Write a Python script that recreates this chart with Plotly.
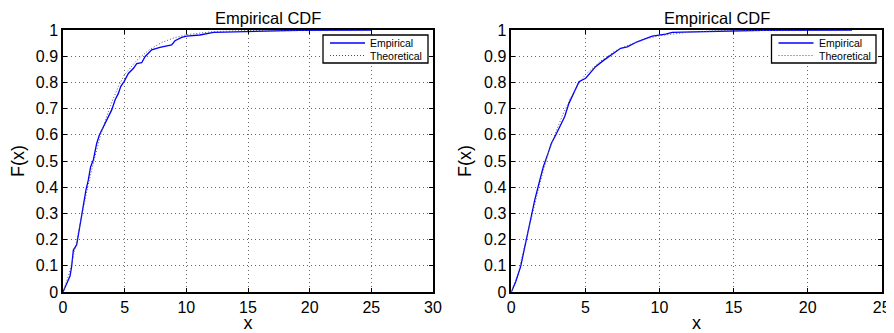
import plotly.graph_objects as go

# ---------------- data ----------------
left_emp_x = [0, 0.30, 0.57, 0.70, 0.84, 1.11, 1.32, 1.51, 1.70, 1.86, 2.05, 2.24, 2.46, 2.59,
              2.73, 2.95, 3.27, 3.54, 3.95, 4.22, 4.49, 4.68, 4.95, 5.30, 5.70, 5.98, 6.38,
              6.65, 7.19, 7.86, 8.81, 9.08, 9.62, 10.03, 11.1, 12.2, 13.8, 15.2, 19.2, 25.05]
left_emp_f = [0, 0.033, 0.061, 0.097, 0.16, 0.18, 0.237, 0.30, 0.351, 0.389, 0.427, 0.478, 0.504,
              0.542, 0.567, 0.599, 0.631, 0.656, 0.695, 0.733, 0.758, 0.784, 0.803, 0.834, 0.853,
              0.872, 0.875, 0.898, 0.924, 0.934, 0.943, 0.959, 0.972, 0.977, 0.981, 0.991, 0.993,
              0.996, 0.999, 1.0]
left_theo_x = [0, 0.5, 1, 1.5, 2, 2.5, 3, 3.5, 4, 4.5, 5, 6, 7, 8, 9, 10, 12, 14, 17, 20, 25.05]
left_theo_f = [0, 0.07, 0.17, 0.29, 0.40, 0.50, 0.59, 0.665, 0.73, 0.785, 0.83, 0.885, 0.925,
               0.952, 0.97, 0.982, 0.993, 0.997, 0.999, 1.0, 1.0]

right_emp_x = [0, 0.30, 0.63, 0.86, 1.08, 1.35, 1.58, 1.87, 2.16, 2.48, 2.70, 3.0, 3.33, 3.60,
               3.89, 4.23, 4.57, 5.02, 5.69, 6.25, 6.93, 7.38, 7.83, 8.50, 9.51, 10.42, 10.86,
               12.3, 13.9, 17.05, 23.0]
right_emp_f = [0, 0.039, 0.097, 0.16, 0.224, 0.288, 0.351, 0.415, 0.478, 0.529, 0.567, 0.599,
               0.637, 0.669, 0.720, 0.765, 0.803, 0.816, 0.860, 0.885, 0.911, 0.930, 0.936,
               0.955, 0.977, 0.984, 0.991, 0.993, 0.996, 0.999, 1.0]
right_theo_x = [0, 0.5, 1, 1.5, 2, 2.5, 3, 3.5, 4, 4.5, 5, 6, 7, 8, 9, 10, 12, 14, 17, 20, 23.0]
right_theo_f = [0, 0.08, 0.20, 0.32, 0.43, 0.53, 0.61, 0.68, 0.74, 0.79, 0.83, 0.88, 0.92, 0.945,
                0.965, 0.978, 0.992, 0.997, 0.9995, 1.0, 1.0]

title_text = "Empirical CDF"
x_label = "x"
y_label = "F(x)"
legend_names = ["Empirical", "Theoretical"]
y_ticks = [0, 0.1, 0.2, 0.3, 0.4, 0.5, 0.6, 0.7, 0.8, 0.9, 1]
y_tick_text = ["0", "0.1", "0.2", "0.3", "0.4", "0.5", "0.6", "0.7", "0.8", "0.9", "1"]
left_x_ticks = [0, 5, 10, 15, 20, 25, 30]
right_x_ticks = [0, 5, 10, 15, 20, 25]

# ---------------- figure ----------------
PAGE_W, PAGE_H = 894, 333
OFF = 8  # default body margin of the written page
W, H = PAGE_W - OFF, PAGE_H - OFF
FONT = "Liberation Sans, Arial, sans-serif"
BLUE = "#0000ff"
THEO = "#555555"
THEO_DASH = "1px,2px"


def px_x(p):
    """page pixel (x) -> paper coordinate"""
    return (p - OFF) / W


def px_y(p):
    """page pixel (y, from top) -> paper coordinate"""
    return (H - (p - OFF)) / H


fig = go.Figure()

fig.add_trace(go.Scatter(x=left_emp_x, y=left_emp_f, mode="lines", name=legend_names[0],
                         line=dict(color=BLUE, width=1.3), xaxis="x", yaxis="y"))
fig.add_trace(go.Scatter(x=left_theo_x, y=left_theo_f, mode="lines", name=legend_names[1],
                         line=dict(color=THEO, width=1, dash=THEO_DASH), xaxis="x", yaxis="y"))
fig.add_trace(go.Scatter(x=right_emp_x, y=right_emp_f, mode="lines", name=legend_names[0],
                         line=dict(color=BLUE, width=1.3), xaxis="x2", yaxis="y2"))
fig.add_trace(go.Scatter(x=right_theo_x, y=right_theo_f, mode="lines", name=legend_names[1],
                         line=dict(color=THEO, width=1, dash=THEO_DASH), xaxis="x2", yaxis="y2"))

ydom = [px_y(292), px_y(30)]
axis_common = dict(showline=True, linecolor="black", linewidth=1.5, mirror="ticks",
                   ticks="inside", ticklen=4, tickcolor="black", showgrid=True,
                   gridcolor="#666666", griddash="1px,3px", gridwidth=1, zeroline=False,
                   automargin=False,
                   tickfont=dict(family=FONT, size=16, color="black"),
                   title_font=dict(family=FONT, size=18, color="black"))

annotations = []
shapes = []
panels = [
    dict(title_x=268, leg_l=323, leg_r=428),
    dict(title_x=717, leg_l=771.5, leg_r=876),
]
for p in panels:
    annotations.append(dict(text=title_text, x=px_x(p["title_x"]), y=px_y(8), xref="paper",
                            yref="paper", showarrow=False, xanchor="center", yanchor="top",
                            borderpad=0,
                            font=dict(family=FONT, size=16.5, color="black")))
    # manual legend box
    shapes.append(dict(type="rect", xref="paper", yref="paper",
                       x0=px_x(p["leg_l"]), x1=px_x(p["leg_r"]), y0=px_y(63), y1=px_y(35),
                       line=dict(color="black", width=1.3), fillcolor="white", layer="above"))
    l = p["leg_l"]
    shapes.append(dict(type="line", xref="paper", yref="paper",
                       x0=px_x(l + 7), x1=px_x(l + 42), y0=px_y(43), y1=px_y(43),
                       line=dict(color=BLUE, width=1.3), layer="above"))
    shapes.append(dict(type="line", xref="paper", yref="paper",
                       x0=px_x(l + 7), x1=px_x(l + 42), y0=px_y(55.5), y1=px_y(55.5),
                       line=dict(color=THEO, width=1, dash=THEO_DASH), layer="above"))
    for name, yy in zip(legend_names, [43, 55.5]):
        annotations.append(dict(text=name, x=px_x(l + 45), y=px_y(yy), xref="paper",
                                yref="paper", showarrow=False, xanchor="left", yanchor="middle",
                                font=dict(family=FONT, size=10.5, color="black")))

fig.update_layout(
    width=W, height=H, margin=dict(l=0, r=0, t=0, b=0, autoexpand=False),
    paper_bgcolor="white", plot_bgcolor="white",
    font=dict(family=FONT, color="black"),
    showlegend=False,
    xaxis=dict(domain=[px_x(63), px_x(433)], range=[0, 30], tickvals=left_x_ticks,
               anchor="y", title=dict(text=x_label, standoff=2), **axis_common),
    yaxis=dict(domain=ydom, range=[0, 1], tickvals=y_ticks, ticktext=y_tick_text,
               anchor="x", title=dict(text=y_label, standoff=8), **axis_common),
    xaxis2=dict(domain=[px_x(511.3), px_x(881.7)], range=[0, 25], tickvals=right_x_ticks,
                anchor="y2", title=dict(text=x_label, standoff=2), **axis_common),
    yaxis2=dict(domain=ydom, range=[0, 1], tickvals=y_ticks, ticktext=y_tick_text,
                anchor="x2", title=dict(text=y_label, standoff=8), **axis_common),
    annotations=annotations,
    shapes=shapes,
)

fig.write_html("out.html")
